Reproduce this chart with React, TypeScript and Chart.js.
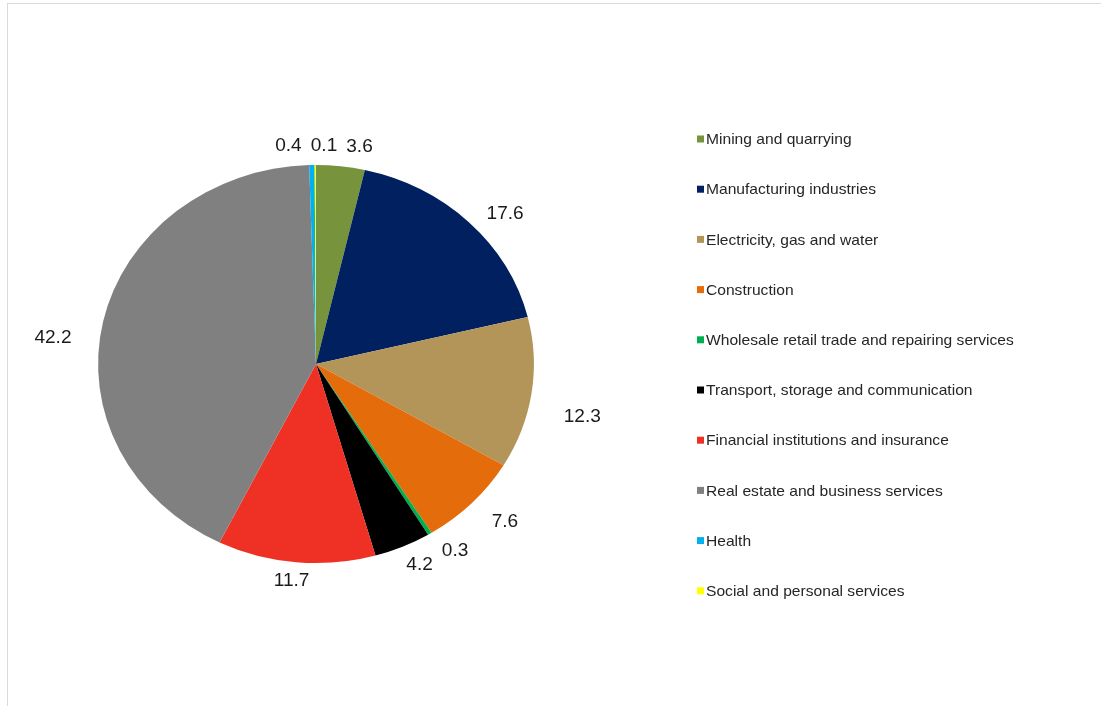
import React, { useEffect, useRef } from "react";
import { Chart, registerables } from "chart.js";

Chart.register(...registerables);

const categories = [
  "Mining and quarrying",
  "Manufacturing industries",
  "Electricity, gas and water",
  "Construction",
  "Wholesale retail trade and repairing services",
  "Transport, storage and communication",
  "Financial institutions and insurance",
  "Real estate and business services",
  "Health",
  "Social and personal services",
];

const values = [3.6, 17.6, 12.3, 7.6, 0.3, 4.2, 11.7, 42.2, 0.4, 0.1];

const colors = [
  "#77933C",
  "#002060",
  "#B3955A",
  "#E46C0A",
  "#00B050",
  "#000000",
  "#EE3124",
  "#808080",
  "#00B0F0",
  "#FFFF00",
];

const PIE_STRETCH = 1.095;
const TEXT_STRETCH = 1.06;
const LABEL_FONT = "18px 'Liberation Sans', Arial, sans-serif";
const LEGEND_FONT = "15px 'Liberation Sans', Arial, sans-serif";

export default function App() {
  const ref = useRef<HTMLCanvasElement | null>(null);

  useEffect(() => {
    if (!ref.current) return;

    const stretchPlugin = {
      id: "stretchAndLabels",
      beforeDatasetsDraw(chart: any) {
        const meta = chart.getDatasetMeta(0);
        const a = meta.data[0];
        const ctx = chart.ctx;
        ctx.save();
        ctx.translate(a.x, a.y);
        ctx.scale(PIE_STRETCH, 1);
        ctx.translate(-a.x, -a.y);
      },
      afterDatasetsDraw(chart: any) {
        const ctx = chart.ctx;
        ctx.restore();

        const meta = chart.getDatasetMeta(0);
        ctx.save();
        ctx.font = LABEL_FONT;
        const boxes = meta.data.map((arc: any, i: number) => {
          const p = arc.getProps(["x", "y", "startAngle", "endAngle", "outerRadius"], true);
          const mid = (p.startAngle + p.endAngle) / 2;
          const text = values[i].toFixed(1);
          const w = ctx.measureText(text).width * TEXT_STRETCH;
          const h = 18;
          const c = Math.cos(mid);
          const s = Math.sin(mid);
          // side labels hang slightly below the radial direction (top-anchored)
          const sideDrop = 22 * Math.pow(c, 4);
          return {
            text,
            w,
            h,
            x: p.x + PIE_STRETCH * p.outerRadius * 1.15 * c + (c * w) / 2,
            y: p.y + p.outerRadius * 1.05 * s + (s * h) / 2 + sideDrop,
          };
        });

        const pad = 9;
        for (let iter = 0; iter < 80; iter++) {
          let moved = false;
          for (let i = 0; i < boxes.length; i++) {
            for (let j = i + 1; j < boxes.length; j++) {
              const a = boxes[i];
              const b = boxes[j];
              const needX = (a.w + b.w) / 2 + pad;
              const needY = (a.h + b.h) / 2;
              const dx = b.x - a.x;
              const dy = b.y - a.y;
              if (Math.abs(dx) < needX && Math.abs(dy) < needY) {
                const push = (needX - Math.abs(dx)) / 2;
                const sgn = dx > 0 ? 1 : -1;
                a.x -= sgn * push;
                b.x += sgn * push;
                moved = true;
              }
            }
          }
          if (!moved) break;
        }

        ctx.fillStyle = "#1a1a1a";
        ctx.textAlign = "center";
        ctx.textBaseline = "middle";
        boxes.forEach((b: any) => {
          ctx.save();
          ctx.translate(b.x, b.y);
          ctx.scale(TEXT_STRETCH, 1);
          ctx.fillText(b.text, 0, 0);
          ctx.restore();
        });
        ctx.restore();
      },
      afterDraw(chart: any) {
        const ctx = chart.ctx;
        ctx.save();
        ctx.font = LEGEND_FONT;
        ctx.textAlign = "left";
        ctx.textBaseline = "middle";
        const x0 = 697;
        const y0 = 139;
        const step = 50.2;
        categories.forEach((label, i) => {
          const y = y0 + i * step;
          ctx.fillStyle = colors[i];
          ctx.fillRect(x0, y - 3.5, 7, 7);
          ctx.fillStyle = "#262626";
          ctx.save();
          ctx.translate(x0 + 9, y + 1);
          ctx.scale(1.04, 1);
          ctx.fillText(label, 0, 0);
          ctx.restore();
        });
        ctx.restore();
      },
    };

    const chart = new Chart(ref.current, {
      type: "pie",
      data: {
        labels: categories,
        datasets: [
          {
            data: values,
            backgroundColor: colors,
            borderWidth: 0,
            hoverOffset: 0,
          },
        ],
      },
      options: {
        responsive: false,
        animation: false,
        devicePixelRatio: 1,
        layout: { padding: { left: 117, right: 586, top: 165, bottom: 143 } },
        plugins: {
          legend: { display: false },
          tooltip: { enabled: false },
        },
        events: [],
      },
      plugins: [stretchPlugin],
    });

    return () => chart.destroy();
  }, []);

  return (
    <div style={{ position: "absolute", left: 0, top: 0, width: 1101, height: 706, background: "#fff", overflow: "hidden" }}>
      <div
        style={{
          position: "absolute",
          left: 7,
          top: 3,
          width: 1094,
          height: 703,
          borderTop: "1px solid #d9d9d9",
          borderLeft: "1px solid #d9d9d9",
          boxSizing: "border-box",
        }}
      />
      <canvas ref={ref} width={1101} height={706} style={{ position: "absolute", left: 0, top: 0, width: 1101, height: 706 }} />
    </div>
  );
}
